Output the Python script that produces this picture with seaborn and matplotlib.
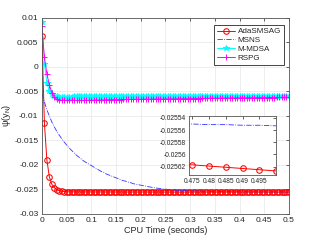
import pandas as pd
import matplotlib
matplotlib.use("Agg")
import matplotlib.pyplot as plt
import seaborn as sns
from matplotlib.ticker import FuncFormatter

# CPU time samples (seconds)
cpu_time = [
    0.0, 0.005, 0.01, 0.015, 0.02, 0.025, 0.03, 0.035, 0.04, 0.045,
    0.05, 0.055, 0.06, 0.065, 0.07, 0.075, 0.08, 0.085, 0.09, 0.095,
    0.1, 0.105, 0.11, 0.115, 0.12, 0.125, 0.13, 0.135, 0.14, 0.145,
    0.15, 0.155, 0.16, 0.165, 0.17, 0.175, 0.18, 0.185, 0.19, 0.195,
    0.2, 0.205, 0.21, 0.215, 0.22, 0.225, 0.23, 0.235, 0.24, 0.245,
    0.25, 0.255, 0.26, 0.265, 0.27, 0.275, 0.28, 0.285, 0.29, 0.295,
    0.3, 0.305, 0.31, 0.315, 0.32, 0.325, 0.33, 0.335, 0.34, 0.345,
    0.35, 0.355, 0.36, 0.365, 0.37, 0.375, 0.38, 0.385, 0.39, 0.395,
    0.4, 0.405, 0.41, 0.415, 0.42, 0.425, 0.43, 0.435, 0.44, 0.445,
    0.45, 0.455, 0.46, 0.465, 0.47, 0.475, 0.48, 0.485, 0.49, 0.495,
    0.5,
]

adasmsag = [
    0.0062, -0.0115, -0.019, -0.0225, -0.024, -0.0247, -0.0251, -0.02532, -0.02543, -0.0255,
    -0.02554, -0.025563, -0.025566, -0.025569, -0.025571, -0.025573, -0.025575, -0.025577, -0.025579, -0.02558,
    -0.025582, -0.025583, -0.025584, -0.025585, -0.025586, -0.025587, -0.025588, -0.025589, -0.02559, -0.025591,
    -0.025592, -0.025593, -0.025593, -0.025594, -0.025595, -0.025595, -0.025596, -0.025597, -0.025597, -0.025598,
    -0.025598, -0.025599, -0.025599, -0.0256, -0.0256, -0.025601, -0.025601, -0.025602, -0.025602, -0.025603,
    -0.025603, -0.025604, -0.025604, -0.025605, -0.025605, -0.025605, -0.025606, -0.025606, -0.025607, -0.025607,
    -0.025607, -0.025608, -0.025608, -0.025608, -0.025609, -0.025609, -0.025609, -0.02561, -0.02561, -0.02561,
    -0.025611, -0.025611, -0.025611, -0.025612, -0.025612, -0.025612, -0.025613, -0.025613, -0.025613, -0.025614,
    -0.025614, -0.025614, -0.025614, -0.025615, -0.025615, -0.025615, -0.025615, -0.025616, -0.025616, -0.025616,
    -0.025616, -0.025616, -0.025616, -0.025617, -0.025617, -0.025617, -0.025619, -0.025621, -0.025623, -0.025625,
    -0.025627,
]

msns = [
    -0.0055, -0.0072, -0.0088, -0.0101, -0.0113, -0.0123, -0.0132, -0.014, -0.0147, -0.0154,
    -0.016, -0.0166, -0.0171, -0.0176, -0.0181, -0.0185, -0.0189, -0.0193, -0.0196, -0.0199,
    -0.0202, -0.0205, -0.0208, -0.0211, -0.0214, -0.0216, -0.0219, -0.0221, -0.0223, -0.0225,
    -0.0227, -0.0229, -0.0231, -0.0233, -0.0234, -0.0236, -0.0237, -0.0239, -0.024, -0.0241,
    -0.0242, -0.0243, -0.0244, -0.0245, -0.0246, -0.02468, -0.02476, -0.02483, -0.0249, -0.02496,
    -0.02502, -0.02507, -0.02512, -0.02516, -0.0252, -0.02524, -0.02527, -0.0253, -0.02533, -0.02535,
    -0.02537, -0.02539, -0.025405, -0.02542, -0.025433, -0.025445, -0.025456, -0.025466, -0.025475, -0.025483,
    -0.02549, -0.025496, -0.025502, -0.025507, -0.025512, -0.025516, -0.02552, -0.025523, -0.025526, -0.025529,
    -0.025532, -0.025534, -0.025536, -0.025538, -0.02554, -0.025541, -0.025543, -0.025544, -0.025545, -0.025546,
    -0.025547, -0.025548, -0.025549, -0.025549, -0.02555, -0.02555, -0.025551, -0.025551, -0.025552, -0.025552,
    -0.025553,
]

m_mdsa = [
    0.0091, 0.0006, -0.0033, -0.005, -0.0057, -0.006, -0.0061, -0.00612, -0.00612, -0.00612,
    -0.00612, -0.00612, -0.00612, -0.00611, -0.00611, -0.00611, -0.00611, -0.00611, -0.00611, -0.0061,
    -0.0061, -0.0061, -0.0061, -0.0061, -0.0061, -0.0061, -0.0061, -0.0061, -0.0061, -0.0061,
    -0.0061, -0.0061, -0.0061, -0.0061, -0.0061, -0.0061, -0.0061, -0.0061, -0.0061, -0.0061,
    -0.0061, -0.0061, -0.0061, -0.0061, -0.0061, -0.0061, -0.00609, -0.00609, -0.00609, -0.00609,
    -0.00609, -0.00609, -0.00609, -0.00609, -0.00609, -0.00609, -0.00608, -0.00608, -0.00608, -0.00608,
    -0.00608, -0.00608, -0.00608, -0.00608, -0.00608, -0.00608, -0.00607, -0.00607, -0.00607, -0.00607,
    -0.00607, -0.00607, -0.00607, -0.00607, -0.00607, -0.00607, -0.00606, -0.00606, -0.00606, -0.00606,
    -0.00606, -0.00606, -0.00606, -0.00606, -0.00606, -0.00606, -0.00605, -0.00605, -0.00605, -0.00605,
    -0.00605, -0.00605, -0.00605, -0.00605, -0.00605, -0.00605, -0.00605, -0.00605, -0.00605, -0.00605,
    -0.00605,
]

rspg = [
    0.0082, 0.0019, -0.0015, -0.0037, -0.0053, -0.0062, -0.0067, -0.0069, -0.0069, -0.00689,
    -0.00688, -0.00687, -0.00687, -0.00686, -0.00685, -0.00685, -0.00684, -0.00683, -0.00683, -0.00682,
    -0.00681, -0.0068, -0.0068, -0.00679, -0.00678, -0.00678, -0.00677, -0.00676, -0.00676, -0.00675,
    -0.00674, -0.00674, -0.00673, -0.00672, -0.00672, -0.00671, -0.0067, -0.0067, -0.00669, -0.00668,
    -0.00668, -0.00667, -0.00666, -0.00666, -0.00665, -0.00664, -0.00664, -0.00663, -0.00662, -0.00662,
    -0.00661, -0.0066, -0.0066, -0.00659, -0.00658, -0.00658, -0.00657, -0.00656, -0.00656, -0.00655,
    -0.00654, -0.00654, -0.00653, -0.00652, -0.00652, -0.00651, -0.0065, -0.0065, -0.00649, -0.00648,
    -0.00648, -0.00647, -0.00646, -0.00646, -0.00645, -0.00644, -0.00644, -0.00643, -0.00642, -0.00642,
    -0.00641, -0.0064, -0.0064, -0.00639, -0.00638, -0.00638, -0.00637, -0.00636, -0.00636, -0.00635,
    -0.00634, -0.00634, -0.00633, -0.00632, -0.00632, -0.00631, -0.00631, -0.0063, -0.0063, -0.0063,
    -0.0063,
]

series_names = ["AdaSMSAG", "MSNS", "M-MDSA", "RSPG"]
series_values = [adasmsag, msns, m_mdsa, rspg]

styles = {
    "AdaSMSAG": dict(color="#ff0000", linestyle="-", marker="o", markersize=4,
                     markerfacecolor="none", markeredgecolor="#ff0000", linewidth=0.7),
    "MSNS": dict(color="#3333ff", linestyle="-.", linewidth=0.6),
    "M-MDSA": dict(color="#00ffff", linestyle="-", marker="*", markersize=4,
                   markeredgecolor="#00ffff", linewidth=0.7),
    "RSPG": dict(color="#ff00ff", linestyle="-", marker="+", markersize=4,
                 markeredgecolor="#ff00ff", markeredgewidth=0.7, linewidth=0.7),
}

df = pd.concat(
    [pd.DataFrame({"time": cpu_time, "value": v, "method": n})
     for n, v in zip(series_names, series_values)],
    ignore_index=True,
)

sns.set_theme(style="whitegrid")
plt.rcParams["font.family"] = ["Liberation Sans", "DejaVu Sans"]
plt.rcParams["mathtext.fontset"] = "dejavusans"

fmt = FuncFormatter(lambda v, _: "%g" % round(v, 6))
tick_col = "#262626"

fig = plt.figure(figsize=(3.2, 2.4), dpi=100)
ax = fig.add_axes([0.131, 0.11, 0.772, 0.817])

for name in series_names:
    sub = df[df["method"] == name]
    sns.lineplot(ax=ax, data=sub, x="time", y="value", label=name,
                 sort=False, errorbar=None, **styles[name])

ax.set_xlim(0, 0.5)
ax.set_ylim(-0.03, 0.01)
ax.set_xticks([0, 0.05, 0.1, 0.15, 0.2, 0.25, 0.3, 0.35, 0.4, 0.45, 0.5])
ax.set_yticks([-0.03, -0.025, -0.02, -0.015, -0.01, -0.005, 0, 0.005, 0.01])
ax.xaxis.set_major_formatter(fmt)
ax.yaxis.set_major_formatter(fmt)
ax.tick_params(direction="in", length=2.5, width=0.5, labelsize=6,
               colors=tick_col, top=True, right=True, pad=2.5)
ax.grid(True, color="#e6e6e6", linewidth=0.5)
for sp in ax.spines.values():
    sp.set_color("#555555")
    sp.set_linewidth(0.6)
ax.set_facecolor("white")
ax.set_xlabel("CPU Time (seconds)", fontsize=6.5, color=tick_col, labelpad=1.5)
ax.set_ylabel(r"$\mathregular{\psi(y_N)}$", fontsize=6.5, color=tick_col, labelpad=1)

leg = ax.legend(loc="upper right", bbox_to_anchor=(0.98, 0.962), fontsize=5.8,
                frameon=True, fancybox=False, edgecolor="#262626", framealpha=1,
                handlelength=2.2, handletextpad=0.35, borderpad=0.35,
                labelspacing=0.15, borderaxespad=0)
leg.get_frame().set_linewidth(0.6)

# inset zoom near the end
axins = fig.add_axes([0.5906, 0.269, 0.272, 0.248])
tail = df[df["time"] >= 0.47]
for name in series_names:
    sub = tail[tail["method"] == name]
    sns.lineplot(ax=axins, data=sub, x="time", y="value", legend=False,
                 sort=False, errorbar=None, **styles[name])
axins.set_xlim(0.474, 0.5)
axins.set_ylim(-0.0256344, -0.0255367)
axins.set_xticks([0.475, 0.48, 0.485, 0.49, 0.495])
axins.set_yticks([-0.02562, -0.0256, -0.02558, -0.02556, -0.02554])
axins.xaxis.set_major_formatter(fmt)
axins.yaxis.set_major_formatter(fmt)
axins.tick_params(direction="in", length=2, width=0.5, labelsize=4.8,
                  colors=tick_col, top=True, right=True, pad=2)
axins.grid(False)
axins.set_facecolor("white")
axins.set_xlabel("")
axins.set_ylabel("")
for sp in axins.spines.values():
    sp.set_color("#555555")
    sp.set_linewidth(0.6)

fig.savefig("out.png", dpi=100, facecolor="white")
